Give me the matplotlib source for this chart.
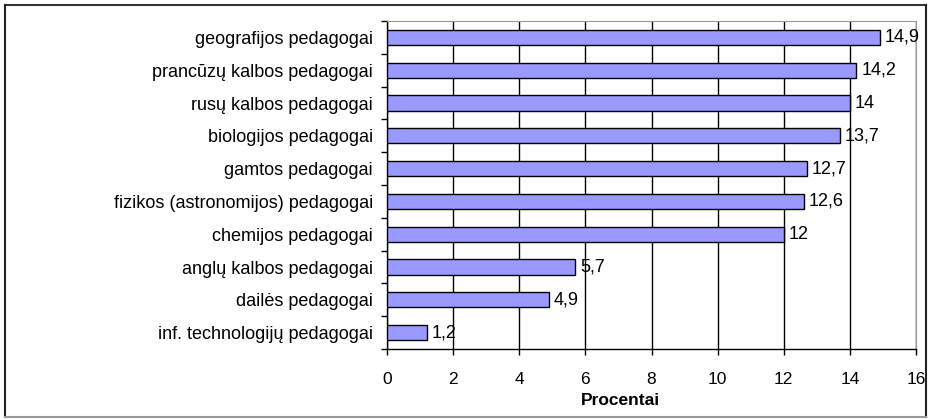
import matplotlib
matplotlib.use("Agg")
import matplotlib.pyplot as plt
import numpy as np
from matplotlib.lines import Line2D

plt.rcParams["font.family"] = ["Liberation Sans", "DejaVu Sans"]

categories = [
    "geografijos pedagogai",
    "prancūzų kalbos pedagogai",
    "rusų kalbos pedagogai",
    "biologijos pedagogai",
    "gamtos pedagogai",
    "fizikos (astronomijos) pedagogai",
    "chemijos pedagogai",
    "anglų kalbos pedagogai",
    "dailės pedagogai",
    "inf. technologijų pedagogai",
]
values = [14.9, 14.2, 14, 13.7, 12.7, 12.6, 12, 5.7, 4.9, 1.2]
labels = ["14,9", "14,2", "14", "13,7", "12,7", "12,6", "12", "5,7", "4,9", "1,2"]
xticks = [0, 2, 4, 6, 8, 10, 12, 14, 16]

W, H = 929, 419
fig = plt.figure(figsize=(W / 100, H / 100), dpi=100)

# outer chart frame (dark top/left/right, grey bottom)
def fline(x0, y0, x1, y1, c, lw):
    fig.add_artist(Line2D([x0 / W, x1 / W], [1 - y0 / H, 1 - y1 / H],
                          transform=fig.transFigure, color=c, lw=lw))

fline(5, 5, 926, 5, "#333333", 1.5)
fline(5, 5, 5, 417, "#222222", 1.5)
fline(926, 5, 926, 417, "#222222", 1.5)
fline(5, 417, 926, 417, "#999999", 1.5)

ax = fig.add_axes([387 / W, 1 - 349 / H, 529 / W, 328 / H])

n = len(categories)
y = np.arange(n)[::-1]
ax.barh(y, values, height=0.46, color="#9999FF", edgecolor="black", lw=1.0, zorder=3)
for yi, v, lab in zip(y, values, labels):
    ax.annotate(lab, (v, yi), xytext=(3.5, 0), textcoords="offset points",
                ha="left", va="center", fontsize=13, zorder=4)

ax.set_xlim(0, 16)
ax.set_ylim(-0.5, n - 0.5)
ax.set_xticks(xticks)
ax.set_xticklabels([str(t) for t in xticks], fontsize=12.5)
ax.set_yticks(y)
ax.set_yticklabels(categories, fontsize=13)
ax.set_yticks(np.arange(n + 1) - 0.5, minor=True)
ax.tick_params(axis="y", which="major", length=0, pad=10)
ax.tick_params(axis="y", which="minor", length=4.5, width=1, direction="out")
ax.tick_params(axis="x", direction="out", length=4.5, width=1, pad=12)
ax.grid(axis="x", color="black", lw=1.0, zorder=1)

fig.text(620 / W, 1 - 400 / H, "Procentai", ha="center", va="center",
         fontsize=12.5, fontweight="bold")

ax.spines["top"].set_color("#999999")
ax.spines["right"].set_color("#999999")
ax.spines["left"].set_linewidth(1.0)
ax.spines["bottom"].set_linewidth(1.0)

fig.savefig("out.png", dpi=100, facecolor="white")
